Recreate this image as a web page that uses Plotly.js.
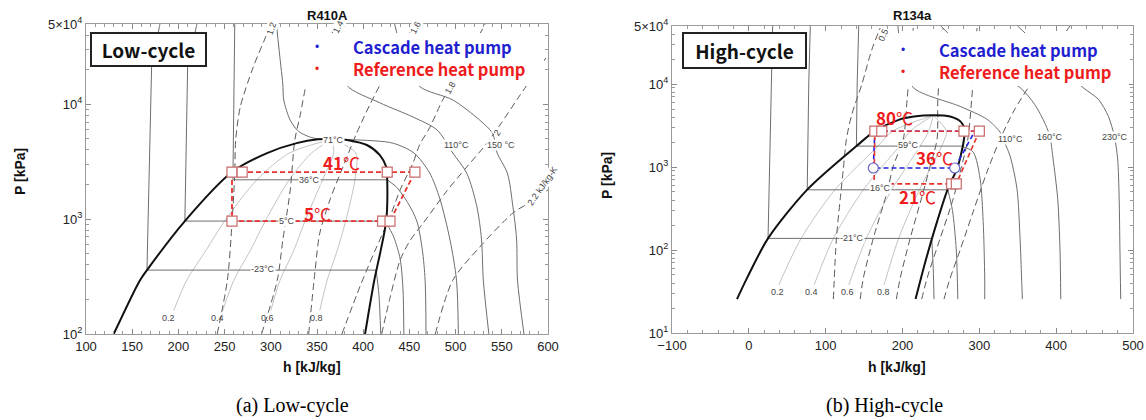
<!DOCTYPE html>
<html><head><meta charset="utf-8">
<script src="https://cdn.plot.ly/plotly-3.0.1.min.js"></script>
<style>body{margin:0;background:#fff}#c{width:1146px;height:420px}</style>
</head><body><div id="c"></div><script>
// ================= LEFT : R410A (low-cycle) =================
const L_dome_h = [130,158,166,207,258,296,328,351,368,384,404,418,425,426,425,419,412,402];
const L_dome_p = [100,290,360,962,2570,3760,4590,4950,4990,4870,4420,3610,2840,2190,982,537,294,100];
// isotherms: liquid part (ends at sat. liquid) + vapour part (starts at sat. vapour)
const L_tm23_liq_h = [180,171,166], L_tm23_liq_p = [50000,21100,360];
const L_tm23_vap_h = [414,417,419], L_tm23_vap_p = [360,220,100];
const L_t5_liq_h = [220,210,207],  L_t5_liq_p = [50000,21100,962];
const L_t5_vap_h = [424,433,440,443,444], L_t5_vap_p = [962,700,450,250,100];
const L_t36_liq_h = [261,260,259], L_t36_liq_p = [50000,10000,2200];
const L_t36_vap_h = [426,436,448,458,464,467,468], L_t36_vap_p = [2200,1900,1400,962,540,294,100];
const L_t71_h = [306,311,313,314,321,330,342,352,366,395,432,455,472,483,494,501,503];
const L_t71_p = [50000,21100,15000,10900,7290,5810,5200,4980,4950,4890,4590,3760,2520,1500,656,294,100];
const L_t110_h = [375,378,382,418,454,480,497,512,523,528,530,536];
const L_t110_p = [50000,24300,14700,10300,7740,5970,3760,2520,1290,670,294,100];
const L_t150_h = [434,445,461,497,526,540,545,556,562,566,567,574];
const L_t150_p = [50000,24300,14300,10900,7290,5590,3760,2520,1290,670,294,100];
// isentropes (kJ/kg-K)
const L_s12_h = [242,253,258,261,262,267,281,296,299];
const L_s12_p = [100,294,925,2520,4890,9500,21100,41600,50000];
const L_s14_h = [290,307,313,321,326,332,339,353,372];
const L_s14_p = [100,294,656,1780,4890,8160,15300,26900,50000];
const L_s16_h = [341,348,353,364,378,393,407,424,440,456];
const L_s16_p = [100,360,755,1470,2840,5620,9840,18000,29700,50000];
const L_s18_h = [377,397,413,429,440,454,461,472,486,496,511,532];
const L_s18_p = [100,265,537,1050,1800,3090,4430,6270,10900,14700,24300,50000];
const L_s20_h = [420,429,440,451,465,491,512,534,548,570,600];
const L_s20_p = [100,206,440,656,925,1780,2840,4590,6590,12100,26900];
const L_s22_h = [478,497,526,562,581,600];
const L_s22_p = [100,294,570,1130,1410,1800];
// quality lines
const L_q_p  = [160,294,537,962,2200,3760,4950];
const L_q02_h = [195,209,230,250,285,320,366];
const L_q04_h = [248,260,278,294,320,344,366];
const L_q06_h = [300,310,325,337,356,368,366];
const L_q08_h = [353,361,372,381,391,392,366];
// reference heat pump cycle
const L_ref_h = [258,456,429,258,258];
const L_ref_p = [2570,2570,962,962,2570];
const L_refpt_h = [258,269,426,456,421,429,258];
const L_refpt_p = [2570,2570,2570,2570,962,962,962];
// labels
const L_tlab = ['71°C','36°C','5°C','-23°C','110°C','150 °C'];
const L_tlab_h = [368,342,317,292,501,549];
const L_tlab_p = [4890,2200,962,370,4430,4430];
const L_slab = ['1.2','1.4','1.6','1.8','2','2.2 kJ/kg-K'];
const L_slab_h = [301,373,457,494,545,594];
const L_slab_p = [46000,47000,47000,13900,5620,1940];
const L_qlab = ['0.2','0.4','0.6','0.8'];
const L_qlab_h = [189,242,296,349];
const L_qlab_p = [137,137,137,137];
const L_rlab = ['41℃','5℃'];
const L_rlab_h = [377,351];
const L_rlab_p = [3140,1130];

// ================= RIGHT : R134a (high-cycle) =================
const R_dome_h = [-15.4,-2.4,25,75.7,140,164,195,215,240,262,276,281,280,276,271,259,245,232,224,217];
const R_dome_p = [25.6,45.8,138,531,1786,2700,3700,4050,4190,4050,3500,2800,2160,1400,948,546,220,86,45.8,25.6];
const R_tm21_liq_h = [31,30,27,25], R_tm21_liq_p = [50000,16000,1000,138];
const R_tm21_vap_h = [238,240,241], R_tm21_vap_p = [138,60,25.6];
const R_t16_liq_h = [80,78,76], R_t16_liq_p = [50000,10000,531];
const R_t16_vap_h = [259,265,270,272], R_t16_vap_p = [531,300,100,25.6];
const R_t59_liq_h = [143,141,140], R_t59_liq_p = [50000,10000,1786];
const R_t59_vap_h = [277,292,301,305,307,307], R_t59_vap_p = [1786,1510,720,220,46,25.6];
const R_t110_h = [194,200,214,275,310,327,331,340,349,353,355,356];
const R_t110_p = [50000,19600,9060,5370,3760,2630,2160,1355,546,138,46,25.6];
const R_t160_h = [250,300,353,372,386,392,396,402,405,406];
const R_t160_p = [50000,18000,9060,5680,3270,2290,1250,415,100,25.6];
const R_t230_h = [350,400,435,455,468,476,480,482,483,484];
const R_t230_p = [50000,18000,9060,6520,4070,2290,1250,415,100,25.6];
// isentropes
const R_sA_h = [110,114,119,123,127,134,147,160,171];
const R_sA_p = [25.6,138,415,948,2160,4300,9850,25800,47300];
const R_sB_h = [145,149,162,180,188,201,206,214];
const R_sB_p = [25.6,45.8,138,502,1028,2160,6520,47300];
const R_sC_h = [192,197,210,227,236,245,246,253];
const R_sC_p = [25.6,45.8,138,502,1028,2160,6520,47300];
const R_sD_h = [225,232,249,266,275,285,290,297];
const R_sD_p = [25.6,45.8,138,415,873,2160,6520,47300];
const R_sE_h = [254,262,275,292,310,327,346,379,405,418];
const R_sE_p = [25.6,45.8,100,290,873,2160,4940,14900,34000,50000];
// quality lines
const R_q_p = [38,138,531,1786,2700,4190];
const R_q02_h = [39,68,112,168,187,240];
const R_q04_h = [85,110,149,196,210,240];
const R_q06_h = [130,153,186,223,234,240];
const R_q08_h = [176,195,222,251,257,240];
// cycles
const R_ref_h = [164,300,270,163,164];
const R_ref_p = [2700,2700,627,627,2700];
const R_cas_h = [164,294,268,162,164];
const R_cas_p = [2700,2700,973,973,2700];
const R_refpt_h = [164,173,280,300,264,270];
const R_refpt_p = [2700,2700,2700,2700,627,627];
const R_caspt_h = [162,268];
const R_caspt_p = [973,973];
// labels
const R_tlab = ['59°C','16°C','-21°C','110°C','160°C','230°C'];
const R_tlab_h = [208,171,134,340,392,477];
const R_tlab_p = [1830,561,138,2160,2290,2290];
const R_slab = ['0.5'];
const R_slab_h = [175];
const R_slab_p = [39000];
const R_qlab = ['0.2','0.4','0.6','0.8'];
const R_qlab_h = [37,81,128,175];
const R_qlab_p = [31,31,31,31];
const R_rlab = ['80℃','36℃','21℃'];
const R_rlab_h = [189,242,219];
const R_rlab_p = [3970,1290,439];

// ================= drawing =================
const FONT = 'Liberation Sans, Arial, sans-serif';
const KFONT = '"Noto Sans CJK KR", "Noto Sans", sans-serif';
const DOME = '#111', ISO = '#6e6e6e', ISEN = '#5a5a5a', QUAL = '#c4c4c4';
const RED = '#e8322c', BLUE = '#2222dd';
const traces = [];
function tr(ax, h, p, c, w, dash, shape) {
  traces.push({type:'scatter', mode:'lines', x:h, y:p, xaxis:'x'+ax, yaxis:'y'+ax,
    line:{color:c, width:w, dash:dash||'solid', shape:shape||'linear', smoothing:0.8},
    hoverinfo:'skip', showlegend:false});
}
function iso(ax, lh, lp, vh, vp) {
  tr(ax, lh.concat([vh[0]]), lp.concat([vp[0]]), ISO, 1);
  tr(ax, vh, vp, ISO, 1, 'solid', 'spline');
}
function mk(ax, h, p, sym, c, sz) {
  traces.push({type:'scatter', mode:'markers', x:h, y:p, xaxis:'x'+ax, yaxis:'y'+ax,
    marker:{symbol:sym, size:sz, color:'#fff', line:{color:c, width:1.2}}, hoverinfo:'skip', showlegend:false});
}
const DASH = '7px,4px';
// left
[L_q02_h,L_q04_h,L_q06_h,L_q08_h].forEach(q => tr('', q, L_q_p, QUAL, 1, 'solid', 'spline'));
[[L_s12_h,L_s12_p],[L_s14_h,L_s14_p],[L_s16_h,L_s16_p],[L_s18_h,L_s18_p],[L_s20_h,L_s20_p],[L_s22_h,L_s22_p]]
  .forEach(s => tr('', s[0], s[1], ISEN, 1, DASH, 'spline'));
iso('', L_tm23_liq_h, L_tm23_liq_p, L_tm23_vap_h, L_tm23_vap_p);
iso('', L_t5_liq_h, L_t5_liq_p, L_t5_vap_h, L_t5_vap_p);
iso('', L_t36_liq_h, L_t36_liq_p, L_t36_vap_h, L_t36_vap_p);
tr('', L_t71_h, L_t71_p, ISO, 1, 'solid', 'spline');
tr('', L_t110_h, L_t110_p, ISO, 1, 'solid', 'spline');
tr('', L_t150_h, L_t150_p, ISO, 1, 'solid', 'spline');
tr('', L_dome_h, L_dome_p, DOME, 2, 'solid', 'spline');
tr('', L_ref_h, L_ref_p, RED, 1.8, '5px,3px');
mk('', L_refpt_h, L_refpt_p, 'square', '#c86a6a', 10);
// right
[R_q02_h,R_q04_h,R_q06_h,R_q08_h].forEach(q => tr('2', q, R_q_p, QUAL, 1, 'solid', 'spline'));
[[R_sA_h,R_sA_p],[R_sB_h,R_sB_p],[R_sC_h,R_sC_p],[R_sD_h,R_sD_p],[R_sE_h,R_sE_p]]
  .forEach(s => tr('2', s[0], s[1], ISEN, 1, DASH, 'spline'));
iso('2', R_tm21_liq_h, R_tm21_liq_p, R_tm21_vap_h, R_tm21_vap_p);
iso('2', R_t16_liq_h, R_t16_liq_p, R_t16_vap_h, R_t16_vap_p);
iso('2', R_t59_liq_h, R_t59_liq_p, R_t59_vap_h, R_t59_vap_p);
tr('2', R_t110_h, R_t110_p, ISO, 1, 'solid', 'spline');
tr('2', R_t160_h, R_t160_p, ISO, 1, 'solid', 'spline');
tr('2', R_t230_h, R_t230_p, ISO, 1, 'solid', 'spline');
tr('2', R_dome_h, R_dome_p, DOME, 2, 'solid', 'spline');
tr('2', R_cas_h, R_cas_p, BLUE, 1.6, '5px,3px');
tr('2', R_ref_h, R_ref_p, RED, 1.6, '5px,3px');
mk('2', R_refpt_h, R_refpt_p, 'square', '#c86a6a', 10);
mk('2', R_caspt_h, R_caspt_p, 'circle', '#6a6ac8', 10);

// ---- annotations ----
const W = 1146, H = 420;
const ann = [];
function pa(px, py, text, font, extra) {
  ann.push(Object.assign({xref:'paper', yref:'paper', x:px/W, y:1-py/H, text:text, showarrow:false,
    font:font, xanchor:'center', yanchor:'middle'}, extra||{}));
}
function da(ax, h, p, text, font, extra) {
  ann.push(Object.assign({xref:'x'+ax, yref:'y'+ax, x:h, y:Math.log10(p), text:text, showarrow:false,
    font:font, xanchor:'center', yanchor:'middle'}, extra||{}));
}
const small = {family:FONT, size:9, color:'#444'};
L_tlab.forEach((t,i) => da('', L_tlab_h[i], L_tlab_p[i], t, small, {bgcolor:'#fff', borderpad:0}));
R_tlab.forEach((t,i) => da('2', R_tlab_h[i], R_tlab_p[i], t, small, {bgcolor:'#fff', borderpad:0}));
const angL = [-72,-62,-62,-60,-55,-55];
L_slab.forEach((t,i) => da('', L_slab_h[i], L_slab_p[i], t, small, {textangle:angL[i], bgcolor:'#fff', borderpad:0}));
R_slab.forEach((t,i) => da('2', R_slab_h[i], R_slab_p[i], t, small, {textangle:-65}));
L_qlab.forEach((t,i) => da('', L_qlab_h[i], L_qlab_p[i], t, small));
R_qlab.forEach((t,i) => da('2', R_qlab_h[i], R_qlab_p[i], t, small));
const redf = {family:KFONT, size:17, color:'#ee1c1c'};
L_rlab.forEach((t,i) => da('', L_rlab_h[i], L_rlab_p[i], '<b>'+t.slice(0,-1)+'</b>'+t.slice(-1), redf));
R_rlab.forEach((t,i) => da('2', R_rlab_h[i], R_rlab_p[i], '<b>'+t.slice(0,-1)+'</b>'+t.slice(-1), redf));
// titles and axis titles
const tf = {family:FONT, size:13, color:'#111'};
pa(327, 16, '<b>R410A</b>', tf);
pa(912, 16, '<b>R134a</b>', tf);
pa(312, 367, '<b>h [kJ/kg]</b>', {family:FONT, size:14, color:'#111'});
pa(897, 367, '<b>h [kJ/kg]</b>', {family:FONT, size:14, color:'#111'});
pa(20, 172, '<b>P [kPa]</b>', {family:FONT, size:14, color:'#111'}, {textangle:-90});
pa(607, 176, '<b>P [kPa]</b>', {family:FONT, size:14, color:'#111'}, {textangle:-90});
pa(292, 405, '(a) Low-cycle', {family:'Liberation Serif, Times New Roman, serif', size:20, color:'#000'});
pa(884, 405, '(b) High-cycle', {family:'Liberation Serif, Times New Roman, serif', size:20, color:'#000'});
// boxes
const boxf = {family:KFONT, size:19, color:'#111'};
pa(148.5, 49.5, '<b>Low-cycle</b>', boxf, {bgcolor:'#fff', bordercolor:'#222', borderwidth:2, borderpad:0, width:113, height:31});
pa(744.5, 50.5, '<b>High-cycle</b>', boxf, {bgcolor:'#fff', bordercolor:'#222', borderwidth:2, borderpad:0, width:121, height:33});
// legends
const legf = (c) => ({family:KFONT, size:16.5, color:c});
pa(317, 47, '•', {family:FONT, size:12, color:'#1f1fd0'});
pa(317, 69, '•', {family:FONT, size:12, color:'#ee1c1c'});
pa(351, 47, '<b>Cascade heat pump</b>', legf('#1f1fd0'), {xanchor:'left'});
pa(351, 69, '<b>Reference heat pump</b>', legf('#ee1c1c'), {xanchor:'left'});
pa(903, 50, '•', {family:FONT, size:12, color:'#1f1fd0'});
pa(903, 72, '•', {family:FONT, size:12, color:'#ee1c1c'});
pa(937, 50, '<b>Cascade heat pump</b>', legf('#1f1fd0'), {xanchor:'left'});
pa(937, 72, '<b>Reference heat pump</b>', legf('#ee1c1c'), {xanchor:'left'});

const shapes = [
  {type:'rect', xref:'paper', yref:'paper', x0:300/W, x1:544/W, y0:1-86/H, y1:1-33/H, fillcolor:'#fff', line:{width:0}, layer:'above'},
  {type:'rect', xref:'paper', yref:'paper', x0:892/W, x1:1129/W, y0:1-86/H, y1:1-33/H, fillcolor:'#fff', line:{width:0}, layer:'above'}
];

function minorLog(lo, hi) { const v=[]; for (let d=lo; d<hi; d++) for (let k=2;k<=9;k++){ const t=k*Math.pow(10,d); if (t<=5e4) v.push(t);} return v; }
const axBase = {showline:true, linecolor:'#9a9a9a', linewidth:1, mirror:'allticks', ticks:'inside', ticklen:5,
  tickcolor:'#8a8a8a', tickfont:{family:FONT, size:13, color:'#222'}, showgrid:false, zeroline:false, fixedrange:true};
const layout = {
  width:W, height:H, margin:{l:0,r:0,t:0,b:0}, paper_bgcolor:'#fff', plot_bgcolor:'#fff', showlegend:false,
  xaxis: Object.assign({}, axBase, {domain:[86/W,548/W], range:[100,600], anchor:'y', tick0:100, dtick:50,
    minor:{dtick:10, ticks:'inside', ticklen:3, tickcolor:'#9a9a9a'}}),
  yaxis: Object.assign({}, axBase, {domain:[1-334/H,1-24/H], type:'log', range:[2,Math.log10(5e4)], anchor:'x',
    tickmode:'array', tickvals:[100,1000,10000,50000], ticktext:['10<sup>2</sup>','10<sup>3</sup>','10<sup>4</sup>','5×10<sup>4</sup>'],
    minor:{tickmode:'array', tickvals:minorLog(2,5), ticks:'inside', ticklen:3, tickcolor:'#9a9a9a'}}),
  xaxis2: Object.assign({}, axBase, {domain:[672/W,1133/W], range:[-100,500], anchor:'y2', tick0:-100, dtick:100,
    minor:{dtick:20, ticks:'inside', ticklen:3, tickcolor:'#9a9a9a'}}),
  yaxis2: Object.assign({}, axBase, {domain:[1-333/H,1-26/H], type:'log', range:[1,Math.log10(5e4)], anchor:'x2',
    tickmode:'array', tickvals:[10,100,1000,10000,50000], ticktext:['10<sup>1</sup>','10<sup>2</sup>','10<sup>3</sup>','10<sup>4</sup>','5×10<sup>4</sup>'],
    minor:{tickmode:'array', tickvals:minorLog(1,5), ticks:'inside', ticklen:3, tickcolor:'#9a9a9a'}}),
  annotations: ann, shapes: shapes
};
Plotly.newPlot('c', traces, layout, {staticPlot:true, displayModeBar:false});
</script></body></html>
